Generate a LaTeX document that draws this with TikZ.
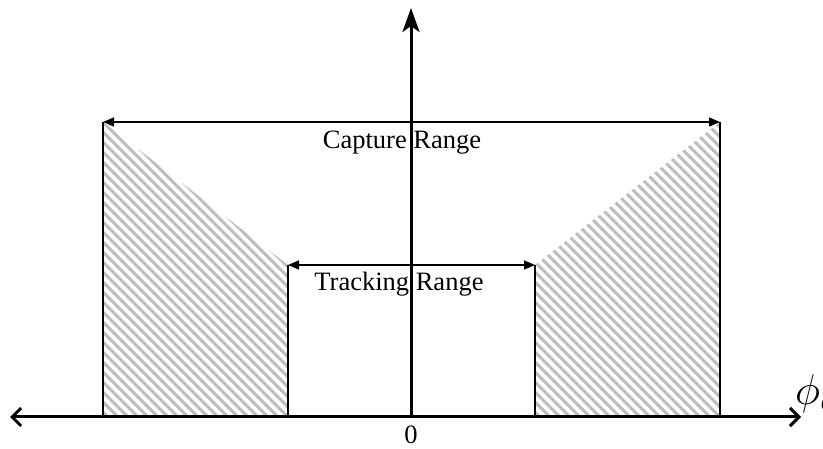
\documentclass[tikz,border=0pt]{standalone}
\usepackage{fontspec}
\setmainfont{Liberation Serif}
\usetikzlibrary{arrows.meta}
\begin{document}
\begin{tikzpicture}[x=1pt,y=-1pt,
  axis/.style={line width=3pt,black},
  edge/.style={line width=1.3pt,black},
  dim/.style={line width=1.3pt,black,{Triangle[length=11pt,width=9pt]}-{Triangle[length=11pt,width=9pt]}},
  hatch/.style={line width=3pt,color=black!26},
  lbl/.style={font=\fontsize{26.5}{30}\selectfont,inner sep=0pt}]
\useasboundingbox (0,0) rectangle (823,449);
% key points
\coordinate (O) at (411,417);
\coordinate (L) at (10,417);
\coordinate (R) at (801,417);
\coordinate (T) at (411,8);
\coordinate (c1) at (103,122);
\coordinate (c2) at (720,122);
\coordinate (c1b) at (103,417);
\coordinate (c2b) at (720,417);
\coordinate (t1) at (288,265);
\coordinate (t2) at (535,265);
\coordinate (t1b) at (288,417);
\coordinate (t2b) at (535,417);
% hatching
\begin{scope}
  \clip (c1) -- (t1) -- (t1b) -- (c1b) -- cycle;
  \foreach \k in {-40,...,60} {\draw[hatch] (103+\k*10-20,102) -- ++(340,340);}
\end{scope}
\begin{scope}
  \clip (t2) -- (c2) -- (c2b) -- (t2b) -- cycle;
  \foreach \k in {-40,...,60} {\draw[hatch] (535+\k*10-220,102) -- ++(340,340);}
\end{scope}
% vertical edges
\draw[edge] (c1) -- (c1b);
\draw[edge] (c2) -- (c2b);
\draw[edge] (t1) -- (t1b);
\draw[edge] (t2) -- (t2b);
% dimension arrows
\draw[dim] (c1) -- (c2);
\draw[dim] (t1) -- (t2);
% axes
\draw[axis,{Straight Barb[length=9pt,width=18pt,line width=3pt]}-{Straight Barb[length=9pt,width=18pt,line width=3pt]}] (L) -- (R);
\draw[axis,-{Stealth[length=24pt,width=17pt,inset=6pt]}] (O) -- (T);
% labels
\node[lbl] (cap) at (402,143) {Capture Range};
\node[lbl] (trk) at (399,284) {Tracking Range};
\node[lbl] (zero) at (411,435) {0};
\node[inner sep=0pt,anchor=base west] (phi) at (795,405) {\scalebox{1.73}{\fontsize{24.88}{28}\selectfont$\phi_e$}};
\end{tikzpicture}
\end{document}
